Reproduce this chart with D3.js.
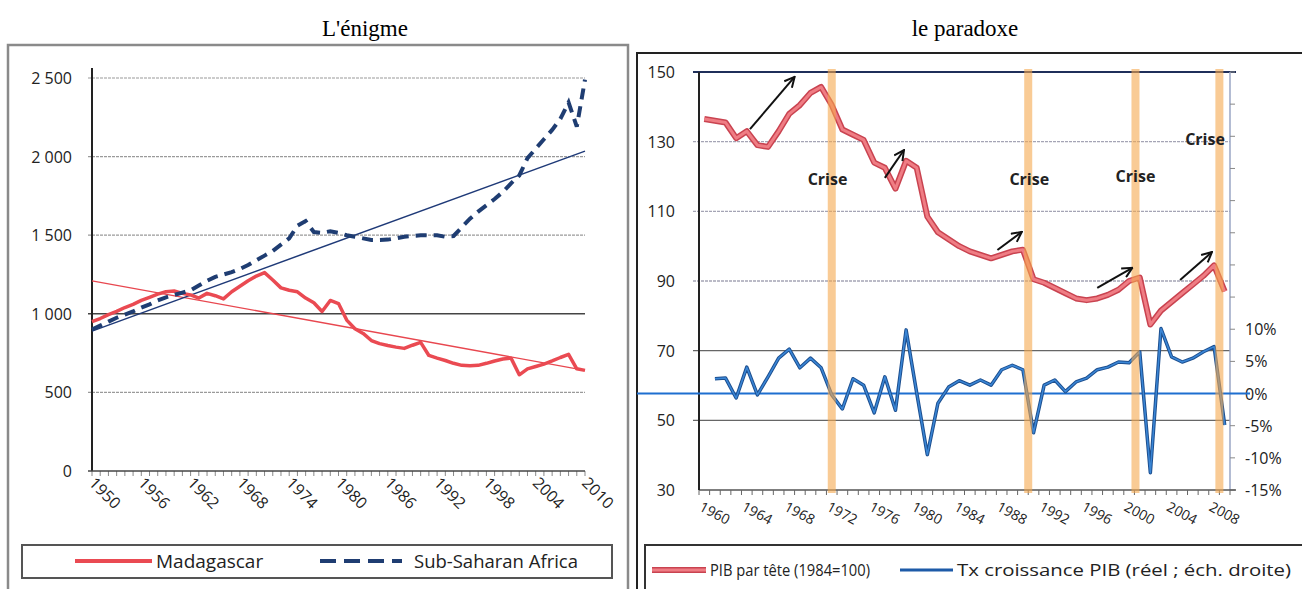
<!DOCTYPE html>
<html>
<head>
<meta charset="utf-8">
<script src="https://cdn.jsdelivr.net/npm/d3@7"></script>
<style>
  body { margin: 0; background: #fff; }
  svg { display: block; }
</style>
</head>
<body>
<svg id="chart" width="1302" height="589"></svg>
<script>
// ---- left panel: GDP per capita, Madagascar vs Sub-Saharan Africa ----
var yearsL = d3.range(1950, 2011);
var madagascar = [950, 970, 995, 1015, 1040, 1060, 1085, 1105, 1125, 1140,
                  1145, 1130, 1120, 1100, 1130, 1115, 1095, 1140, 1175, 1210,
                  1240, 1262, 1215, 1165, 1150, 1140, 1100, 1070, 1015, 1085,
                  1065, 960, 905, 875, 830, 810, 798, 788, 780, 800,
                  818, 735, 718, 703, 685, 672, 670, 672, 685, 700,
                  712, 718, 612, 650, 665, 680, 700, 722, 742, 650, 640];
var ssa = [900, 925, 950, 975, 995, 1015, 1040, 1060, 1085, 1105,
           1120, 1135, 1150, 1180, 1210, 1235, 1250, 1265, 1285, 1310,
           1340, 1370, 1400, 1440, 1480, 1560, 1590, 1520, 1515, 1525,
           1515, 1500, 1490, 1480, 1470, 1470, 1472, 1480, 1490, 1495,
           1500, 1500, 1500, 1490, 1495, 1550, 1605, 1650, 1690, 1730,
           1775, 1830, 1880, 1990, 2050, 2110, 2170, 2240, 2345, 2190, 2490];
var madaTrend = [1210, 640];   // linear trend at 1950 and 2010
var ssaTrend = [890, 2035];
var yTicksL = [0, 500, 1000, 1500, 2000, 2500];
var xLabelsL = [1950, 1956, 1962, 1968, 1974, 1980, 1986, 1992, 1998, 2004, 2010];

// ---- right panel: PIB par tete (index) and growth rate ----
var yearsR = d3.range(1960, 2010);
var pib = [136.5, 136, 135.5, 131, 133, 129, 128.5, 133, 138, 140.5,
           144, 145.7, 140.5, 133.5, 132, 130.5, 124, 122.5, 116.5, 124.5,
           122.5, 108.5, 104, 102, 100, 98.5, 97.5, 96.5, 97.5, 98.5,
           99, 90.5, 89.5, 88, 86.5, 85, 84.5, 85, 86, 87.5,
           90, 91, 77.5, 81.5, 84, 86.5, 89, 91.5, 94.5, 87];
var growth = [null, 2.3, 2.4, -0.7, 4.1, -0.2, 2.6, 5.5, 6.9, 4.0,
              5.5, 4.0, -0.2, -2.4, 2.3, 1.3, -3.0, 2.6, -2.6, 9.9,
              0.1, -9.5, -1.5, 1.0, 2.0, 1.3, 2.1, 1.3, 3.7, 4.4,
              3.7, -6.1, 1.3, 2.1, 0.3, 1.8, 2.4, 3.7, 4.1, 4.9,
              4.8, 6.5, -12.3, 10.1, 5.7, 4.9, 5.5, 6.5, 7.3, -4.9];
var yTicksR = [30, 50, 70, 90, 110, 130, 150];
var growthTicks = [-15, -10, -5, 0, 5, 10, 15, 20, 25, 30, 35, 40, 45, 50];
var growthLabels = [-15, -10, -5, 0, 5, 10];
var xLabelsR = d3.range(1960, 2009, 4);
var crisisYears = [1972, 1990.5, 2000.6, 2008.5];
var crisisLabels = [[1971.6, 117.6], [1990.6, 117.6], [2000.6, 118.4], [2007.15, 129]];
// arrows: [year0, value0, year1, value1]
var arrows = [[1964.3, 133.6, 1968.5, 148.6],
              [1977.0, 119.6, 1978.8, 127.6],
              [1987.6, 98.9, 1989.9, 104.1],
              [1997.0, 88.0, 2000.3, 93.8],
              [2004.8, 90.3, 2007.8, 98.3]];

var svg = d3.select('#chart');
var sans = "'Open Sans', 'Noto Sans', sans-serif";
var fr = d3.formatLocale({decimal: ',', thousands: '\u00a0', grouping: [3], currency: ['', '']});
var fmtThousands = fr.format(',');

// ===================== LEFT =====================
(function drawLeft() {
  var x = d3.scaleLinear().domain([1950, 2010]).range([92, 585]);
  var y = d3.scaleLinear().domain([0, 2500]).range([471, 78]);

  svg.append('text')
    .attr('x', 365).attr('y', 36)
    .attr('text-anchor', 'middle')
    .style('font-family', "'Liberation Serif', 'DejaVu Serif', serif")
    .style('font-size', '23px')
    .text("L'énigme");

  svg.append('rect')
    .attr('x', 8).attr('y', 45).attr('width', 620).attr('height', 560)
    .attr('fill', 'none').attr('stroke', '#8a8a8a').attr('stroke-width', 2.5);

  var g = svg.append('g');

  // gridlines
  g.selectAll('.gridL')
    .data(yTicksL.filter(function(d) { return d > 0; }))
    .enter().append('line')
      .attr('x1', 88).attr('x2', 585)
      .attr('y1', function(d) { return y(d); })
      .attr('y2', function(d) { return y(d); })
      .attr('stroke', function(d) { return d === 1000 ? '#444' : '#9a9a9a'; })
      .attr('stroke-width', function(d) { return d === 1000 ? 1.4 : 1.2; })
      .attr('stroke-dasharray', function(d) { return d === 1000 ? null : '3,1'; });

  // y labels
  g.selectAll('.ylabL')
    .data(yTicksL)
    .enter().append('text')
      .attr('x', 72)
      .attr('y', function(d) { return y(d) + 6; })
      .attr('text-anchor', 'end')
      .style('font-family', sans).style('font-size', '16px').style('fill', '#222')
      .text(function(d) { return fmtThousands(d); });

  // x minor ticks every year
  g.selectAll('.xtickL')
    .data(yearsL)
    .enter().append('line')
      .attr('x1', function(d) { return x(d); })
      .attr('x2', function(d) { return x(d); })
      .attr('y1', y(0)).attr('y2', y(0) + 5)
      .attr('stroke', '#888').attr('stroke-width', 1);

  // axes lines
  g.append('line').attr('x1', 92).attr('x2', 92).attr('y1', 68).attr('y2', y(0))
    .attr('stroke', '#222').attr('stroke-width', 2);
  g.append('line').attr('x1', 88).attr('x2', 585).attr('y1', y(0)).attr('y2', y(0))
    .attr('stroke', '#444').attr('stroke-width', 1.5);

  // x labels rotated
  g.selectAll('.xlabL')
    .data(xLabelsL)
    .enter().append('text')
      .attr('transform', function(d) { return 'translate(' + (x(d) - 4) + ',' + (y(0) + 13) + ') rotate(45)'; })
      .style('font-family', sans).style('font-size', '16px').style('fill', '#222')
      .text(function(d) { return d; });

  var line = d3.line()
    .x(function(d, i) { return x(yearsL[i]); })
    .y(function(d) { return y(d); });

  // trend lines
  g.append('line')
    .attr('x1', x(1950)).attr('x2', x(2010))
    .attr('y1', y(madaTrend[0])).attr('y2', y(madaTrend[1]))
    .attr('stroke', '#e8474f').attr('stroke-width', 1.3);
  g.append('line')
    .attr('x1', x(1950)).attr('x2', x(2010))
    .attr('y1', y(ssaTrend[0])).attr('y2', y(ssaTrend[1]))
    .attr('stroke', '#1f3a78').attr('stroke-width', 1.5);

  g.append('path').datum(madagascar)
    .attr('d', line).attr('fill', 'none')
    .attr('stroke', '#ea4a52').attr('stroke-width', 3.5)
    .attr('stroke-linejoin', 'round');

  g.append('path').datum(ssa)
    .attr('d', line).attr('fill', 'none')
    .attr('stroke', '#1f3d72').attr('stroke-width', 4)
    .attr('stroke-dasharray', '11,7');

  // legend
  svg.append('rect')
    .attr('x', 22).attr('y', 545).attr('width', 590).attr('height', 33)
    .attr('fill', '#fff').attr('stroke', '#555').attr('stroke-width', 2);
  svg.append('line').attr('x1', 75).attr('x2', 152).attr('y1', 561).attr('y2', 561)
    .attr('stroke', '#ea4a52').attr('stroke-width', 4);
  svg.append('text').attr('x', 156).attr('y', 568)
    .style('font-family', sans).style('font-size', '19px').style('fill', '#222')
    .text('Madagascar');
  svg.append('line').attr('x1', 320).attr('x2', 402).attr('y1', 561).attr('y2', 561)
    .attr('stroke', '#1f3d72').attr('stroke-width', 4).attr('stroke-dasharray', '16,8');
  svg.append('text').attr('x', 414).attr('y', 568)
    .style('font-family', sans).style('font-size', '19px').style('fill', '#222')
    .attr('textLength', 164).attr('lengthAdjust', 'spacingAndGlyphs')
    .text('Sub-Saharan Africa');
}());

// ===================== RIGHT =====================
(function drawRight() {
  var x = d3.scaleLinear().domain([1959.5, 2009.5]).range([699, 1230]);
  var y = d3.scaleLinear().domain([30, 150]).range([490, 72]);
  var yg = d3.scaleLinear().domain([-15, 50]).range([490, 72]);

  svg.append('text')
    .attr('x', 965).attr('y', 36)
    .attr('text-anchor', 'middle')
    .style('font-family', "'Liberation Serif', 'DejaVu Serif', serif")
    .style('font-size', '23px')
    .text('le paradoxe');

  svg.append('rect')
    .attr('x', 637).attr('y', 53).attr('width', 680).attr('height', 560)
    .attr('fill', 'none').attr('stroke', '#222').attr('stroke-width', 2);

  var g = svg.append('g');

  // gridlines
  g.selectAll('.gridR')
    .data(yTicksR.filter(function(d) { return d > 30 && d < 150; }))
    .enter().append('line')
      .attr('x1', 693).attr('x2', 1230)
      .attr('y1', function(d) { return y(d); })
      .attr('y2', function(d) { return y(d); })
      .attr('stroke', function(d) { return d <= 70 ? '#666' : '#a5a5b5'; })
      .attr('stroke-width', 1.3)
      .attr('stroke-dasharray', function(d) { return d <= 70 ? null : '3,1'; });

  // top border line at 150
  g.append('line').attr('x1', 693).attr('x2', 1236).attr('y1', y(150)).attr('y2', y(150))
    .attr('stroke', '#1f2f5a').attr('stroke-width', 2);

  // left y labels
  g.selectAll('.ylabR')
    .data(yTicksR)
    .enter().append('text')
      .attr('x', 675)
      .attr('y', function(d) { return y(d) + 6; })
      .attr('text-anchor', 'end')
      .style('font-family', sans).style('font-size', '16px').style('fill', '#222')
      .text(function(d) { return d; });

  // right axis
  g.append('line').attr('x1', 1230).attr('x2', 1230).attr('y1', y(150)).attr('y2', y(30))
    .attr('stroke', '#9aa6c4').attr('stroke-width', 1.5);
  g.selectAll('.gtick')
    .data(growthTicks)
    .enter().append('line')
      .attr('x1', 1230).attr('x2', 1235)
      .attr('y1', function(d) { return yg(d); })
      .attr('y2', function(d) { return yg(d); })
      .attr('stroke', '#888').attr('stroke-width', 1);
  g.selectAll('.glab')
    .data(growthLabels)
    .enter().append('text')
      .attr('x', 1245)
      .attr('y', function(d) { return yg(d) + 6; })
      .style('font-family', sans).style('font-size', '16px').style('fill', '#222')
      .text(function(d) { return d + '%'; });

  // x axis
  g.append('line').attr('x1', 699).attr('x2', 1236).attr('y1', y(30)).attr('y2', y(30))
    .attr('stroke', '#555').attr('stroke-width', 1.3);
  g.selectAll('.xtickR')
    .data(d3.range(1959.5, 2010, 1))
    .enter().append('line')
      .attr('x1', function(d) { return x(d); })
      .attr('x2', function(d) { return x(d); })
      .attr('y1', y(30)).attr('y2', y(30) + 5)
      .attr('stroke', '#666').attr('stroke-width', 1);
  g.append('line').attr('x1', 699).attr('x2', 699).attr('y1', y(150)).attr('y2', y(30))
    .attr('stroke', '#222').attr('stroke-width', 2);

  g.selectAll('.xlabR')
    .data(xLabelsR)
    .enter().append('text')
      .attr('transform', function(d) { return 'translate(' + (x(d) - 6) + ',' + (y(30) + 20) + ') rotate(28)'; })
      .style('font-family', sans).style('font-size', '14px').style('fill', '#222')
      .text(function(d) { return d; });

  // zero growth line
  g.append('line').attr('x1', 637).attr('x2', 1250).attr('y1', yg(0)).attr('y2', yg(0))
    .attr('stroke', '#1e6fd0').attr('stroke-width', 2);

  // PIB par tete
  var pibLine = d3.line()
    .x(function(d, i) { return x(yearsR[i]); })
    .y(function(d) { return y(d); });
  g.append('path').datum(pib).attr('d', pibLine).attr('fill', 'none')
    .attr('stroke', '#c94350').attr('stroke-width', 6).attr('stroke-linejoin', 'round');
  g.append('path').datum(pib).attr('d', pibLine).attr('fill', 'none')
    .attr('stroke', '#ef7d84').attr('stroke-width', 3).attr('stroke-linejoin', 'round');

  // growth
  var gLine = d3.line()
    .defined(function(d) { return d !== null; })
    .x(function(d, i) { return x(yearsR[i]); })
    .y(function(d) { return yg(d); });
  g.append('path').datum(growth).attr('d', gLine).attr('fill', 'none')
    .attr('stroke', '#1d4f8f').attr('stroke-width', 3.5).attr('stroke-linejoin', 'round');
  g.append('path').datum(growth).attr('d', gLine).attr('fill', 'none')
    .attr('stroke', '#3a86d6').attr('stroke-width', 1.5).attr('stroke-linejoin', 'round');

  // crisis bands (drawn over lines, semi transparent)
  g.selectAll('.band')
    .data(crisisYears)
    .enter().append('rect')
      .attr('x', function(d) { return x(d) - 4; })
      .attr('y', y(150) - 3).attr('width', 8).attr('height', y(30) - y(150) + 6)
      .attr('fill', '#f5a94e').attr('opacity', 0.6);

  // crisis labels
  g.selectAll('.crise')
    .data(crisisLabels)
    .enter().append('text')
      .attr('x', function(d) { return x(d[0]); })
      .attr('y', function(d) { return y(d[1]); })
      .attr('text-anchor', 'middle')
      .style('font-family', sans).style('font-size', '16px').style('font-weight', 'bold')
      .style('fill', '#222')
      .text('Crise');

  // arrows
  var defs = svg.append('defs');
  defs.append('marker')
    .attr('id', 'arrowHead')
    .attr('viewBox', '0 0 12 12').attr('refX', 11).attr('refY', 6)
    .attr('markerWidth', 12).attr('markerHeight', 12)
    .attr('markerUnits', 'userSpaceOnUse').attr('orient', 'auto')
    .append('path').attr('d', 'M1,1 L11,6 L1,11')
      .attr('fill', 'none').attr('stroke', '#111').attr('stroke-width', 2);
  g.selectAll('.arrow')
    .data(arrows)
    .enter().append('line')
      .attr('x1', function(d) { return x(d[0]); })
      .attr('y1', function(d) { return y(d[1]); })
      .attr('x2', function(d) { return x(d[2]); })
      .attr('y2', function(d) { return y(d[3]); })
      .attr('stroke', '#111').attr('stroke-width', 2)
      .attr('marker-end', 'url(#arrowHead)');

  // legend
  svg.append('rect')
    .attr('x', 645).attr('y', 545).attr('width', 670).attr('height', 50)
    .attr('fill', '#fff').attr('stroke', '#333').attr('stroke-width', 2);
  svg.append('line').attr('x1', 652).attr('x2', 706).attr('y1', 570).attr('y2', 570)
    .attr('stroke', '#c94350').attr('stroke-width', 6);
  svg.append('line').attr('x1', 652).attr('x2', 706).attr('y1', 570).attr('y2', 570)
    .attr('stroke', '#ef7d84').attr('stroke-width', 3);
  svg.append('text').attr('x', 710).attr('y', 576)
    .style('font-family', sans).style('font-size', '16px').style('fill', '#222')
    .attr('textLength', 160).attr('lengthAdjust', 'spacingAndGlyphs')
    .text('PIB par tête (1984=100)');
  svg.append('line').attr('x1', 900).attr('x2', 953).attr('y1', 570).attr('y2', 570)
    .attr('stroke', '#1d5aa8').attr('stroke-width', 3);
  svg.append('text').attr('x', 957).attr('y', 576)
    .style('font-family', sans).style('font-size', '16px').style('fill', '#222')
    .attr('textLength', 334).attr('lengthAdjust', 'spacingAndGlyphs')
    .text('Tx croissance PIB (réel ; éch. droite)');
}());
</script>
</body>
</html>
